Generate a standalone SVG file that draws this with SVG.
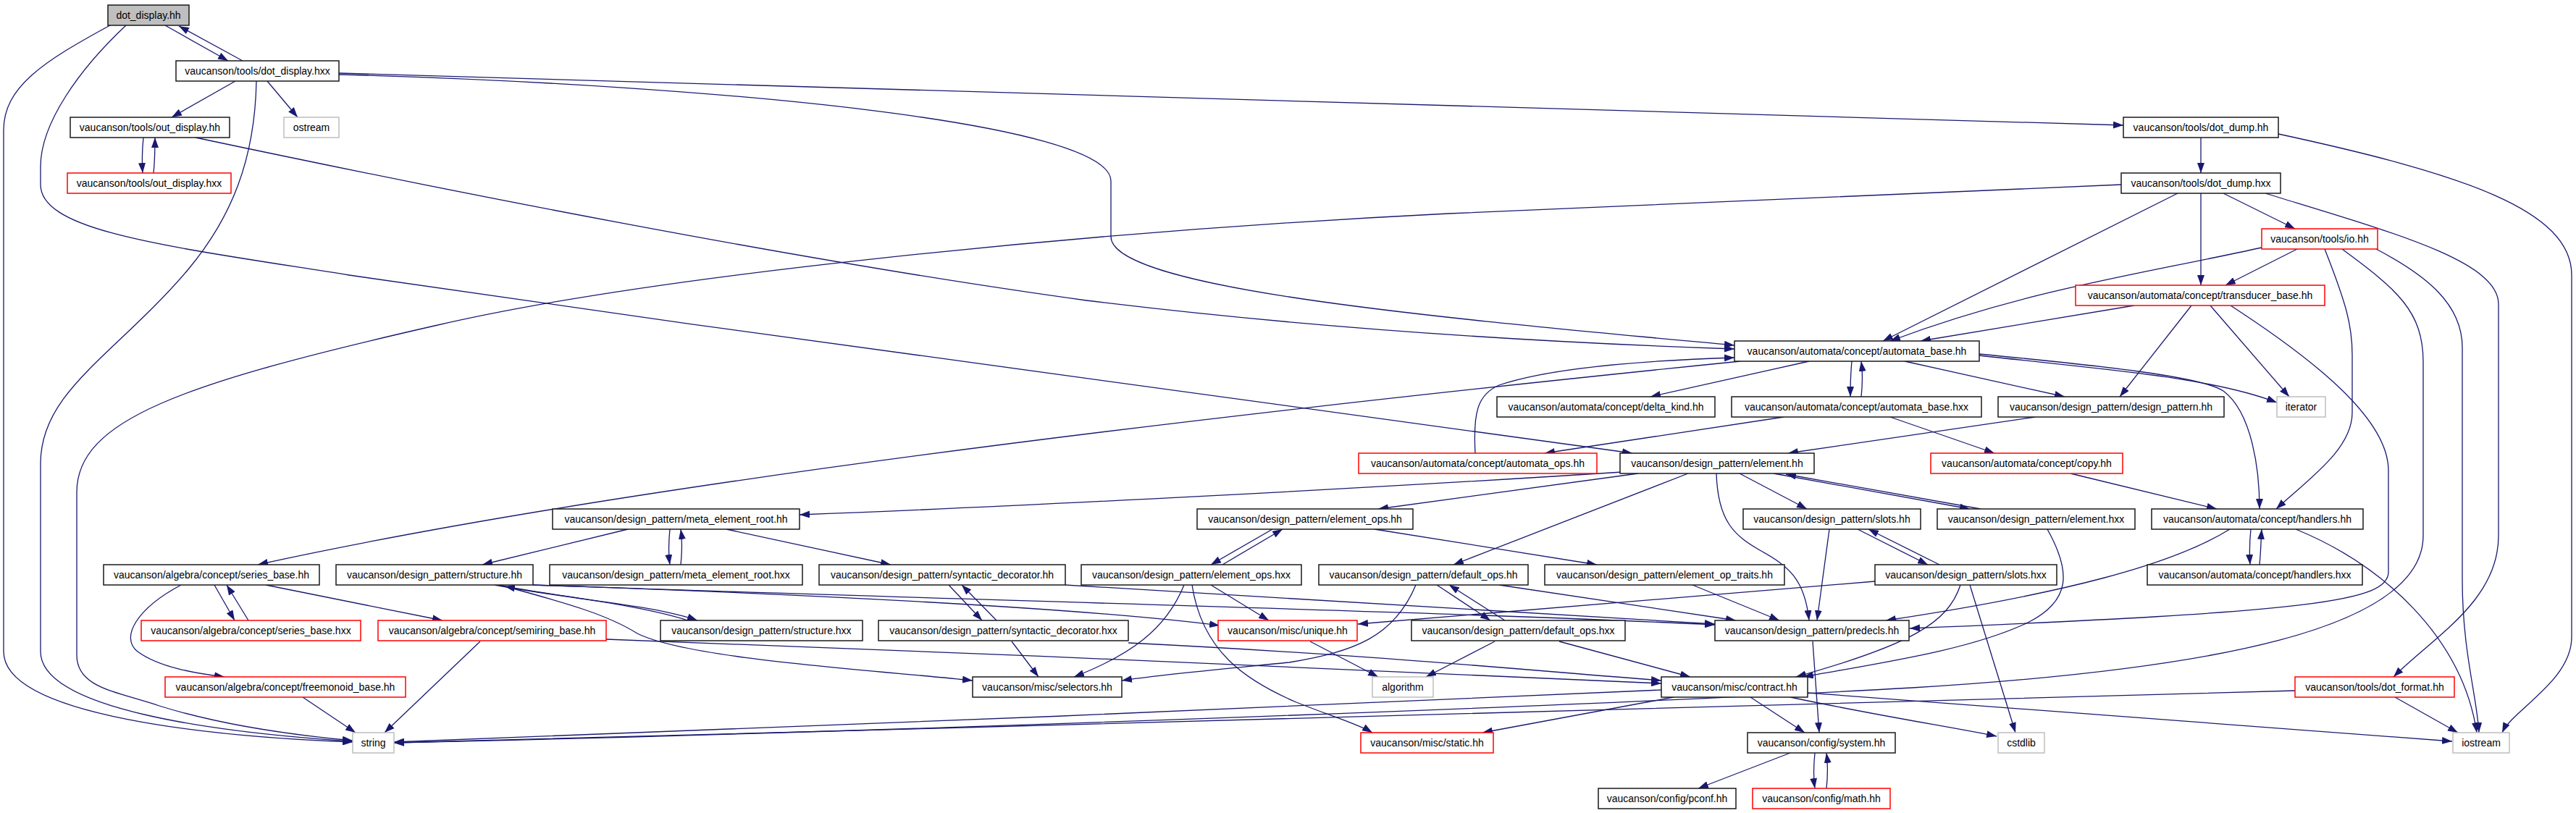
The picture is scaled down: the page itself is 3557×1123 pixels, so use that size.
<svg xmlns="http://www.w3.org/2000/svg" width="3557" height="1123" viewBox="0 0 3557 1123">
<style>
.e{fill:none;stroke:#191970;stroke-width:1.3;marker-end:url(#ah)}
.n rect{fill:#fff;stroke:#1a1a1a;stroke-width:1.5}
.n.ext rect{stroke:#bfbfbf}
.n.tr rect{stroke:#ff0000}
.n.root rect{fill:#bfbfbf}
.n text{font-family:"Liberation Sans",Arial,sans-serif;font-size:14px;text-anchor:middle;fill:#000}
</style>
<defs>
<marker id="ah" markerWidth="14" markerHeight="10" refX="14" refY="5" orient="auto" markerUnits="userSpaceOnUse"><path d="M0,0 L14,5 L0,10 z" fill="#191970"/></marker>
</defs>
<rect width="3557" height="1123" fill="#fff"/>
<g id="edges">
<path class="e" d="M228,35 L315,84"/>
<path class="e" d="M335,84 L247,36"/>
<path class="e" d="M152,35 C60,85 5,120 5,180 L5,900 C5,990 300,1018 487,1025"/>
<path class="e" d="M174,35 C110,95 56,170 56,230 L56,255 C56,320 230,340 482,380 C1100,470 1800,565 2254,626"/>
<path class="e" d="M325,112 L237,162"/>
<path class="e" d="M369,112 L411,162"/>
<path class="e" d="M354,112 C352,220 320,300 260,372 C160,490 56,540 56,640 L56,900 C56,980 300,1012 487,1024"/>
<path class="e" d="M468,101 L2932,173"/>
<path class="e" d="M468,103 C1000,118 1534,170 1534,250 L1534,327 C1534,400 2000,440 2395,477"/>
<path class="e" d="M198,190 C196,210 196,225 197,239"/>
<path class="e" d="M212,239 C214,220 214,205 214,190"/>
<path class="e" d="M270,190 C600,260 1100,360 1500,415 C1800,452 2100,472 2395,482"/>
<path class="e" d="M3039,190 L3039,239"/>
<path class="e" d="M3146,185 C3400,240 3551,290 3551,380 L3551,880 C3551,940 3470,980 3455,1012"/>
<path class="e" d="M2929,255 L2000,295 C1500,320 900,380 600,450 C250,530 106,580 106,680 L106,905 C106,950 160,955 220,975 C300,1000 400,1015 487,1023"/>
<path class="e" d="M3007,267 L2600,471"/>
<path class="e" d="M3039,267 L3039,394"/>
<path class="e" d="M3070,267 L3169,316"/>
<path class="e" d="M3128,267 C3300,320 3450,360 3450,420 L3450,740 C3450,830 3360,880 3305,935"/>
<path class="e" d="M3172,344 L3073,394"/>
<path class="e" d="M3123,342 C2950,380 2800,400 2610,471"/>
<path class="e" d="M3210,344 C3240,420 3248,450 3248,490 L3248,570 C3248,620 3190,660 3143,703"/>
<path class="e" d="M3234,344 C3310,400 3346,430 3346,500 L3346,740 C3346,870 3050,925 2640,950 C2200,975 1200,1012 544,1026"/>
<path class="e" d="M3281,344 C3350,380 3400,420 3400,480 L3400,800 C3400,900 3420,960 3423,1012"/>
<path class="e" d="M2947,422 L2652,471"/>
<path class="e" d="M3026,422 L2927,548"/>
<path class="e" d="M3052,422 L3161,548"/>
<path class="e" d="M3080,422 C3200,500 3298,580 3298,650 L3298,790 C3298,830 3200,845 2637,868"/>
<path class="e" d="M2498,499 L2279,548"/>
<path class="e" d="M2557,499 C2555,520 2555,530 2555,548"/>
<path class="e" d="M2570,548 C2572,530 2572,515 2570,499"/>
<path class="e" d="M2630,499 L2851,548"/>
<path class="e" d="M2733,491 C2900,510 3050,520 3144,556"/>
<path class="e" d="M2733,489 C2900,505 3040,520 3070,540 C3110,570 3120,650 3120,703"/>
<path class="e" d="M2403,499 C1800,560 900,660 356,780"/>
<path class="e" d="M2463,576 L2133,626"/>
<path class="e" d="M2610,576 L2754,626"/>
<path class="e" d="M2037,626 C2034,570 2040,545 2070,532 C2150,505 2300,497 2395,494"/>
<path class="e" d="M2810,576 L2469,626"/>
<path class="e" d="M2240,652 C1900,674 1400,700 1104,711"/>
<path class="e" d="M2262,654 L1903,703"/>
<path class="e" d="M2331,654 L2007,780"/>
<path class="e" d="M2370,654 C2372,720 2395,740 2430,760 C2470,782 2492,800 2498,857"/>
<path class="e" d="M2402,654 L2495,703"/>
<path class="e" d="M2449,654 L2720,703"/>
<path class="e" d="M2735,703 L2466,655"/>
<path class="e" d="M2859,654 L3061,703"/>
<path class="e" d="M925,731 C923,750 923,765 925,780"/>
<path class="e" d="M940,780 C942,760 942,745 940,731"/>
<path class="e" d="M867,731 L666,780"/>
<path class="e" d="M1003,731 L1230,780"/>
<path class="e" d="M1757,731 L1672,780"/>
<path class="e" d="M1688,780 L1771,731"/>
<path class="e" d="M1898,731 L2205,780"/>
<path class="e" d="M2565,731 L2662,780"/>
<path class="e" d="M2678,780 L2580,731"/>
<path class="e" d="M2526,731 L2509,857"/>
<path class="e" d="M2827,731 C2860,790 2860,830 2800,860 C2720,898 2600,915 2490,935"/>
<path class="e" d="M3108,731 C3106,750 3106,765 3107,780"/>
<path class="e" d="M3120,780 C3122,760 3122,745 3123,731"/>
<path class="e" d="M3079,731 C3000,780 2850,820 2604,857"/>
<path class="e" d="M3170,731 C3290,780 3400,880 3420,1012"/>
<path class="e" d="M296,808 L324,857"/>
<path class="e" d="M343,857 L313,808"/>
<path class="e" d="M250,808 C190,840 165,880 190,900 C220,922 270,930 310,935"/>
<path class="e" d="M367,808 L611,857"/>
<path class="e" d="M683,808 C800,830 900,835 963,857"/>
<path class="e" d="M950,857 C880,835 780,825 697,810"/>
<path class="e" d="M736,808 C1200,825 2000,845 2368,863"/>
<path class="e" d="M736,808 C1100,820 1500,840 1684,864"/>
<path class="e" d="M690,808 C790,835 840,850 880,875 C950,910 1200,925 1343,940"/>
<path class="e" d="M1310,808 L1356,857"/>
<path class="e" d="M1376,857 L1328,808"/>
<path class="e" d="M1471,808 C1800,830 2100,845 2368,862"/>
<path class="e" d="M1635,808 C1610,870 1560,905 1483,935"/>
<path class="e" d="M1646,808 C1660,900 1720,940 1790,970 C1840,990 1875,1000 1895,1012"/>
<path class="e" d="M1672,808 L1752,857"/>
<path class="e" d="M1984,808 L2058,857"/>
<path class="e" d="M2078,857 L2001,808"/>
<path class="e" d="M2070,808 L2397,857"/>
<path class="e" d="M1955,808 C1925,880 1870,900 1780,915 C1680,925 1600,932 1549,940"/>
<path class="e" d="M2337,808 L2457,857"/>
<path class="e" d="M2707,808 C2690,860 2640,890 2480,935"/>
<path class="e" d="M2720,808 L2783,1012"/>
<path class="e" d="M2589,803 L1875,862"/>
<path class="e" d="M663,886 L531,1012"/>
<path class="e" d="M837,883 C1300,900 1900,925 2294,944"/>
<path class="e" d="M1558,888 C1900,905 2100,925 2294,940"/>
<path class="e" d="M1397,886 L1434,935"/>
<path class="e" d="M1809,886 L1903,935"/>
<path class="e" d="M2064,886 L1969,935"/>
<path class="e" d="M2153,886 L2334,935"/>
<path class="e" d="M2503,886 L2512,1012"/>
<path class="e" d="M418,963 L491,1012"/>
<path class="e" d="M2294,953 C1800,975 1000,1010 544,1025"/>
<path class="e" d="M2311,963 L2047,1012"/>
<path class="e" d="M2417,963 L2492,1012"/>
<path class="e" d="M2472,963 C2600,990 2700,1005 2757,1017"/>
<path class="e" d="M2496,957 L3386,1024"/>
<path class="e" d="M3169,954 C2700,970 1500,1000 544,1026"/>
<path class="e" d="M3307,963 L3394,1012"/>
<path class="e" d="M2472,1040 L2345,1089"/>
<path class="e" d="M2506,1040 C2504,1060 2504,1075 2506,1089"/>
<path class="e" d="M2522,1089 C2524,1070 2524,1055 2522,1040"/>
</g>
<g id="n0" class="n root"><rect x="149" y="7" width="112" height="28"/><text x="205" y="26">dot_display.hh</text></g>
<g id="n1" class="n"><rect x="243" y="84" width="225" height="28"/><text x="355.5" y="103">vaucanson/tools/dot_display.hxx</text></g>
<g id="n2" class="n"><rect x="97" y="162" width="220" height="28"/><text x="207" y="181">vaucanson/tools/out_display.hh</text></g>
<g id="n3" class="n ext"><rect x="392" y="162" width="76" height="28"/><text x="430" y="181">ostream</text></g>
<g id="n4" class="n tr"><rect x="93" y="239" width="226" height="28"/><text x="206" y="258">vaucanson/tools/out_display.hxx</text></g>
<g id="n5" class="n"><rect x="2932" y="162" width="214" height="28"/><text x="3039" y="181">vaucanson/tools/dot_dump.hh</text></g>
<g id="n6" class="n"><rect x="2929" y="239" width="220" height="28"/><text x="3039" y="258">vaucanson/tools/dot_dump.hxx</text></g>
<g id="n7" class="n tr"><rect x="3123" y="316" width="160" height="28"/><text x="3203" y="335">vaucanson/tools/io.hh</text></g>
<g id="n8" class="n tr"><rect x="2866" y="394" width="344" height="28"/><text x="3038" y="413">vaucanson/automata/concept/transducer_base.hh</text></g>
<g id="n9" class="n"><rect x="2395" y="471" width="338" height="28"/><text x="2564" y="490">vaucanson/automata/concept/automata_base.hh</text></g>
<g id="n10" class="n"><rect x="2067" y="548" width="301" height="28"/><text x="2217.5" y="567">vaucanson/automata/concept/delta_kind.hh</text></g>
<g id="n11" class="n"><rect x="2391" y="548" width="345" height="28"/><text x="2563.5" y="567">vaucanson/automata/concept/automata_base.hxx</text></g>
<g id="n12" class="n"><rect x="2759" y="548" width="312" height="28"/><text x="2915" y="567">vaucanson/design_pattern/design_pattern.hh</text></g>
<g id="n13" class="n ext"><rect x="3144" y="548" width="67" height="28"/><text x="3177.5" y="567">iterator</text></g>
<g id="n14" class="n tr"><rect x="1876" y="626" width="329" height="28"/><text x="2040.5" y="645">vaucanson/automata/concept/automata_ops.hh</text></g>
<g id="n15" class="n"><rect x="2237" y="626" width="268" height="28"/><text x="2371" y="645">vaucanson/design_pattern/element.hh</text></g>
<g id="n16" class="n tr"><rect x="2666" y="626" width="265" height="28"/><text x="2798.5" y="645">vaucanson/automata/concept/copy.hh</text></g>
<g id="n17" class="n"><rect x="763" y="703" width="341" height="28"/><text x="933.5" y="722">vaucanson/design_pattern/meta_element_root.hh</text></g>
<g id="n18" class="n"><rect x="1653" y="703" width="298" height="28"/><text x="1802" y="722">vaucanson/design_pattern/element_ops.hh</text></g>
<g id="n19" class="n"><rect x="2407" y="703" width="245" height="28"/><text x="2529.5" y="722">vaucanson/design_pattern/slots.hh</text></g>
<g id="n20" class="n"><rect x="2675" y="703" width="273" height="28"/><text x="2811.5" y="722">vaucanson/design_pattern/element.hxx</text></g>
<g id="n21" class="n"><rect x="2971" y="703" width="292" height="28"/><text x="3117" y="722">vaucanson/automata/concept/handlers.hh</text></g>
<g id="n22" class="n"><rect x="143" y="780" width="298" height="28"/><text x="292" y="799">vaucanson/algebra/concept/series_base.hh</text></g>
<g id="n23" class="n"><rect x="464" y="780" width="272" height="28"/><text x="600" y="799">vaucanson/design_pattern/structure.hh</text></g>
<g id="n24" class="n"><rect x="759" y="780" width="349" height="28"/><text x="933.5" y="799">vaucanson/design_pattern/meta_element_root.hxx</text></g>
<g id="n25" class="n"><rect x="1131" y="780" width="340" height="28"/><text x="1301" y="799">vaucanson/design_pattern/syntactic_decorator.hh</text></g>
<g id="n26" class="n"><rect x="1493" y="780" width="304" height="28"/><text x="1645" y="799">vaucanson/design_pattern/element_ops.hxx</text></g>
<g id="n27" class="n"><rect x="1821" y="780" width="289" height="28"/><text x="1965.5" y="799">vaucanson/design_pattern/default_ops.hh</text></g>
<g id="n28" class="n"><rect x="2133" y="780" width="331" height="28"/><text x="2298.5" y="799">vaucanson/design_pattern/element_op_traits.hh</text></g>
<g id="n29" class="n"><rect x="2589" y="780" width="251" height="28"/><text x="2714.5" y="799">vaucanson/design_pattern/slots.hxx</text></g>
<g id="n30" class="n"><rect x="2965" y="780" width="297" height="28"/><text x="3113.5" y="799">vaucanson/automata/concept/handlers.hxx</text></g>
<g id="n31" class="n tr"><rect x="195" y="857" width="303" height="28"/><text x="346.5" y="876">vaucanson/algebra/concept/series_base.hxx</text></g>
<g id="n32" class="n tr"><rect x="522" y="857" width="315" height="28"/><text x="679.5" y="876">vaucanson/algebra/concept/semiring_base.hh</text></g>
<g id="n33" class="n"><rect x="912" y="857" width="279" height="28"/><text x="1051.5" y="876">vaucanson/design_pattern/structure.hxx</text></g>
<g id="n34" class="n"><rect x="1213" y="857" width="345" height="28"/><text x="1385.5" y="876">vaucanson/design_pattern/syntactic_decorator.hxx</text></g>
<g id="n35" class="n tr"><rect x="1682" y="857" width="192" height="28"/><text x="1778" y="876">vaucanson/misc/unique.hh</text></g>
<g id="n36" class="n"><rect x="1949" y="857" width="295" height="28"/><text x="2096.5" y="876">vaucanson/design_pattern/default_ops.hxx</text></g>
<g id="n37" class="n"><rect x="2368" y="857" width="268" height="28"/><text x="2502" y="876">vaucanson/design_pattern/predecls.hh</text></g>
<g id="n38" class="n tr"><rect x="228" y="935" width="332" height="28"/><text x="394" y="954">vaucanson/algebra/concept/freemonoid_base.hh</text></g>
<g id="n39" class="n"><rect x="1343" y="935" width="206" height="28"/><text x="1446" y="954">vaucanson/misc/selectors.hh</text></g>
<g id="n40" class="n ext"><rect x="1895" y="935" width="84" height="28"/><text x="1937" y="954">algorithm</text></g>
<g id="n41" class="n"><rect x="2294" y="935" width="202" height="28"/><text x="2395" y="954">vaucanson/misc/contract.hh</text></g>
<g id="n42" class="n tr"><rect x="3169" y="935" width="220" height="28"/><text x="3279" y="954">vaucanson/tools/dot_format.hh</text></g>
<g id="n43" class="n ext"><rect x="487" y="1012" width="57" height="28"/><text x="515.5" y="1031">string</text></g>
<g id="n44" class="n tr"><rect x="1879" y="1012" width="183" height="28"/><text x="1970.5" y="1031">vaucanson/misc/static.hh</text></g>
<g id="n45" class="n"><rect x="2413" y="1012" width="204" height="28"/><text x="2515" y="1031">vaucanson/config/system.hh</text></g>
<g id="n46" class="n ext"><rect x="2759" y="1012" width="64" height="28"/><text x="2791" y="1031">cstdlib</text></g>
<g id="n47" class="n ext"><rect x="3387" y="1012" width="78" height="28"/><text x="3426" y="1031">iostream</text></g>
<g id="n48" class="n"><rect x="2207" y="1089" width="190" height="28"/><text x="2302" y="1108">vaucanson/config/pconf.hh</text></g>
<g id="n49" class="n tr"><rect x="2420" y="1089" width="190" height="28"/><text x="2515" y="1108">vaucanson/config/math.hh</text></g>
</svg>
